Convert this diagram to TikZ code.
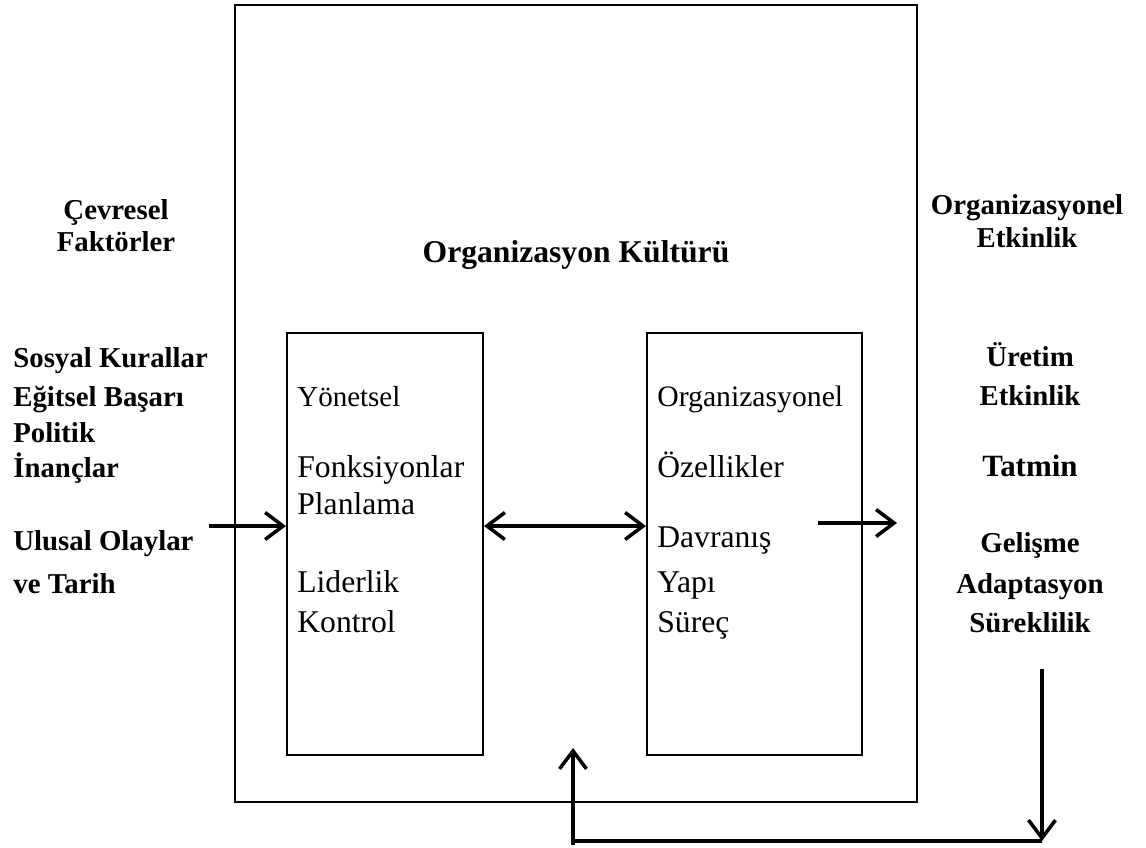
\documentclass[tikz,border=0pt]{standalone}
\usepackage{fontspec}
\setmainfont{Liberation Serif}
\usetikzlibrary{arrows.meta}

\begin{document}
\begin{tikzpicture}[>={Straight Barb[length=3.6mm,width=5.4mm]}]
\tikzstyle{box}=[draw,line width=1.1pt,inner sep=0pt]
\tikzstyle{head}=[font=\fontsize{16.4}{19}\selectfont\bfseries,anchor=base,inner sep=0pt]
\tikzstyle{factor}=[font=\fontsize{16.4}{19}\selectfont\bfseries,anchor=base west,inner sep=0pt]
\tikzstyle{item}=[font=\fontsize{18}{21}\selectfont,anchor=base west,inner sep=0pt]
\tikzstyle{flow}=[line width=2pt,->]

\useasboundingbox (0,0) rectangle (22.92,16.94);

% outer box and the two inner boxes
\node[box,minimum width=13.64cm,minimum height=15.94cm] (culture) at (11.52,8.87) {};
\node[box,minimum width=3.92cm,minimum height=8.44cm] (mgmt) at (7.70,6.06) {};
\node[box,minimum width=4.30cm,minimum height=8.44cm] (orgc) at (15.09,6.06) {};

\node[head,font=\fontsize{18}{21}\selectfont\bfseries] (title) at (11.52,11.68) {Organizasyon Kültürü};

% left side
\node[head] (env) at (2.32,12.54) {Çevresel};
\node[head] (env2) at (2.32,11.90) {Faktörler};
\foreach \t/\y [count=\i] in {Sosyal Kurallar/368,Eğitsel Başarı/407,Politik/443,İnançlar/478,Ulusal Olaylar/551,ve Tarih/593}
  \node[factor] (fac\i) at (0.26,{(847-\y)/50}) {\t};

% right side
\node[head] (eff) at (20.54,12.64) {Organizasyonel};
\node[head] (eff2) at (20.54,11.99) {Etkinlik};
\foreach \t/\y [count=\i] in {Üretim/367,Etkinlik/406,Gelişme/553,Adaptasyon/594,Süreklilik/632}
  \node[head] (res\i) at (20.6,{(847-\y)/50}) {\t};
\node[head,font=\fontsize{17.6}{21}\selectfont\bfseries] (tatmin) at (20.6,7.40) {Tatmin};

% inside the boxes
\node[item,font=\fontsize{16.5}{19}\selectfont] (m1) at (5.94,8.80) {Yönetsel};
\foreach \t/\y [count=\i from 2] in {Fonksiyonlar/478,Planlama/515,Liderlik/592,Kontrol/632}
  \node[item] (m\i) at (5.94,{(847-\y)/50}) {\t};
\node[item,font=\fontsize{16.9}{19}\selectfont] (o1) at (13.14,8.80) {Organizasyonel};
\foreach \t/\y [count=\i from 2] in {Özellikler/478,Davranış/548,Yapı/592,Süreç/632}
  \node[item] (o\i) at (13.14,{(847-\y)/50}) {\t};

% arrows
\coordinate (src) at (4.18,6.42);
\coordinate (out1) at (16.36,6.48);
\coordinate (out2) at (17.94,6.48);
\coordinate (fbtop) at (20.84,3.56);
\coordinate (fbR) at (20.84,0.12);
\coordinate (fbL) at (11.46,0.12);
\coordinate (fbup) at (11.46,1.98);

\draw[flow] (src) -- (mgmt.west |- src);
\draw[flow,<->] (mgmt.east |- src) -- (orgc.west |- src);
\draw[flow] (out1) -- (out2);
\draw[flow] (fbtop) -- (fbR);
\draw[line width=2pt] (fbR) -- (fbL);
\draw[flow] ([yshift=-0.08cm]fbL) -- (fbup);

\end{tikzpicture}
\end{document}
